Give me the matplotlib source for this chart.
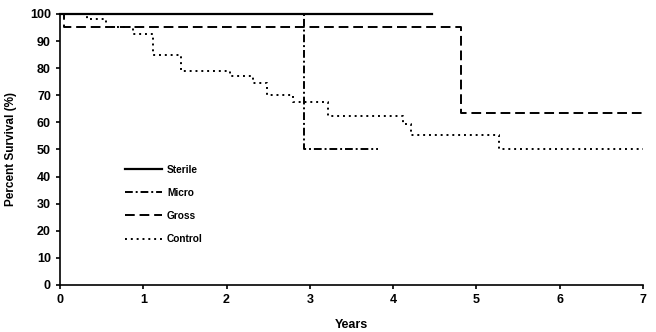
import matplotlib
matplotlib.use('Agg')
import matplotlib.pyplot as plt

plt.rcParams.update({
    'font.family': ['Liberation Sans', 'DejaVu Sans'],
    'font.weight': 'bold',
    'font.size': 9,
})

# Kaplan-Meier style step curves (years, percent survival)
sterile_t = [0.0, 4.47]
sterile_s = [100, 100]

micro_t = [0.0, 2.93, 3.82]
micro_s = [100, 50, 50]

gross_t = [0.0, 0.05, 4.81, 7.0]
gross_s = [100, 95, 63.5, 63.5]

control_t = [0.0, 0.32, 0.55, 0.88, 1.12, 1.45, 2.04, 2.32, 2.48, 2.8,
             3.22, 4.12, 4.22, 5.27, 7.0]
control_s = [100, 98, 95, 92.5, 85, 79, 77, 74.5, 70, 67.5,
             62.5, 59.5, 55.5, 50, 50]

x_ticks = [0, 1, 2, 3, 4, 5, 6, 7]
y_ticks = [0, 10, 20, 30, 40, 50, 60, 70, 80, 90, 100]

fig = plt.figure(figsize=(6.56, 3.32), dpi=100)
ax = fig.add_axes([0.0915, 0.1416, 0.8885, 0.8164])

ax.plot(sterile_t, sterile_s, drawstyle='steps-post', color='black',
        lw=1.6, label='Sterile', clip_on=False)
ax.plot(micro_t, micro_s, drawstyle='steps-post', color='black',
        lw=1.4, dashes=(4, 1.5, 1, 1.5), label='Micro', clip_on=False)
ax.plot(gross_t, gross_s, drawstyle='steps-post', color='black',
        lw=1.4, dashes=(5, 2.5), label='Gross', clip_on=False)
ax.plot(control_t, control_s, drawstyle='steps-post', color='black',
        lw=1.4, dashes=(1, 2), label='Control', clip_on=False)

ax.set_xlim(0, 7)
ax.set_ylim(0, 100)
ax.set_xticks(x_ticks)
ax.set_yticks(y_ticks)
ax.spines['top'].set_visible(False)
ax.spines['right'].set_visible(False)
ax.spines['left'].set_linewidth(1.2)
ax.spines['bottom'].set_linewidth(1.2)
ax.tick_params(direction='out', length=3, width=1.2, labelsize=9)
for lab in ax.get_xticklabels() + ax.get_yticklabels():
    lab.set_fontweight('bold')

ax.set_xlabel('Years', fontsize=9, fontweight='bold', labelpad=9)
ax.set_ylabel('Percent Survival (%)', fontsize=8.5, fontweight='bold', labelpad=9)

leg = ax.legend(loc='upper left', bbox_to_anchor=(0.095, 0.478), frameon=False,
                fontsize=7.3, handlelength=3.7, labelspacing=1.3,
                handletextpad=0.5)
for t in leg.get_texts():
    t.set_fontweight('bold')

fig.savefig('out.png', dpi=100)
